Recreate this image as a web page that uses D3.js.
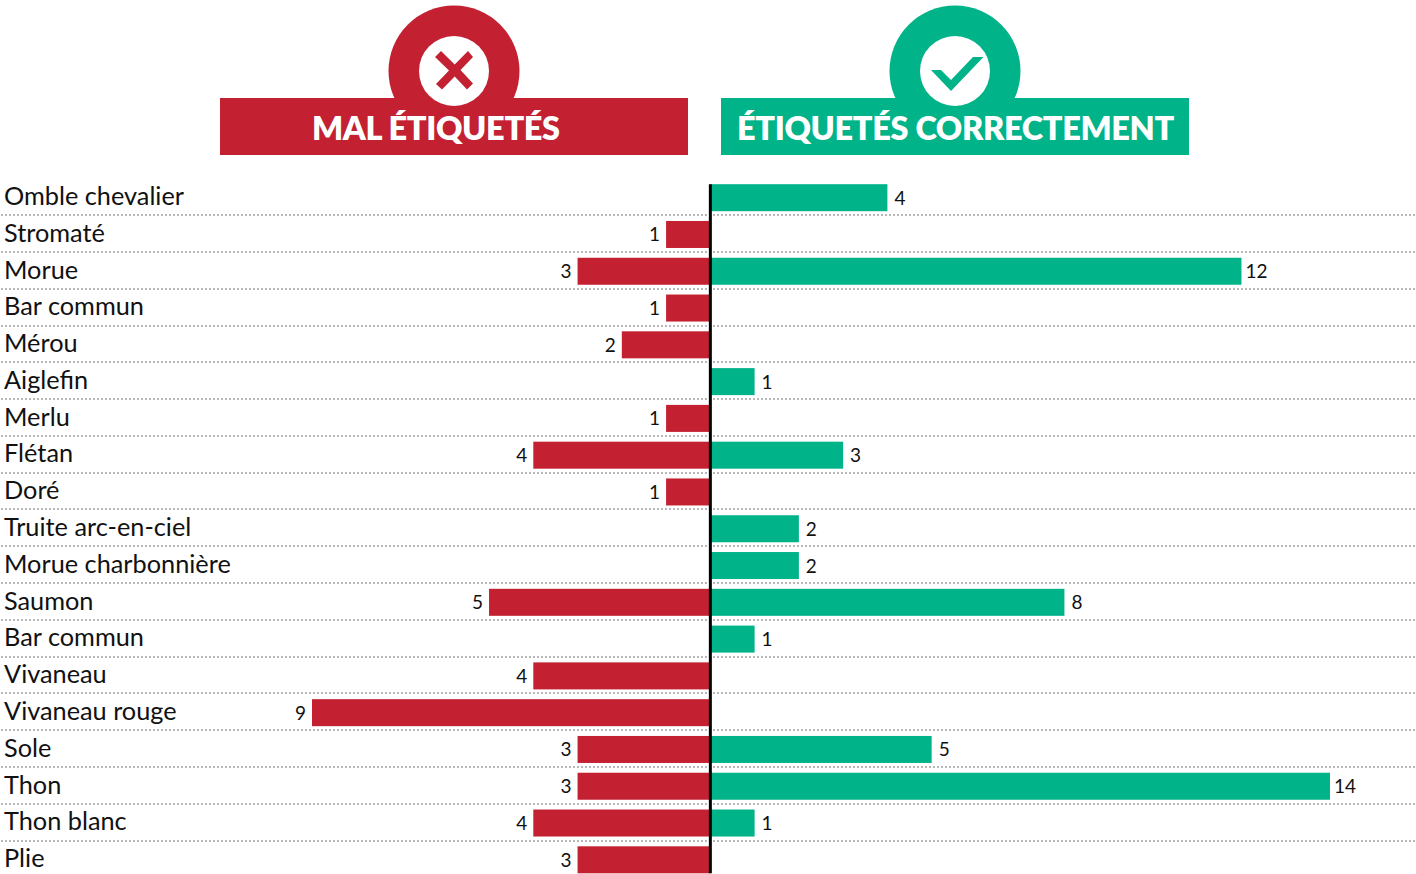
<!DOCTYPE html>
<html>
<head>
<meta charset="utf-8">
<script src="https://cdn.jsdelivr.net/npm/d3@7"></script>
<style>
  html, body { margin: 0; padding: 0; background: #fff; overflow: hidden; }
  text { font-family: Lato, sans-serif; }
</style>
</head>
<body>
<div id="chart"></div>
<script>
const species = ["Omble chevalier", "Stromaté", "Morue", "Bar commun", "Mérou", "Aiglefin", "Merlu", "Flétan", "Doré", "Truite arc-en-ciel", "Morue charbonnière", "Saumon", "Bar commun", "Vivaneau", "Vivaneau rouge", "Sole", "Thon", "Thon blanc", "Plie"];
const wrong = [0, 1, 3, 1, 2, 0, 1, 4, 1, 0, 0, 5, 0, 4, 9, 3, 3, 4, 3];
const right = [4, 0, 12, 0, 0, 1, 0, 3, 0, 2, 2, 8, 1, 0, 0, 5, 14, 1, 0];

const red = "#c32032";
const green = "#00b388";

const width = 1416;
const height = 874;

const svg = d3.select("#chart").append("svg")
  .attr("width", width)
  .attr("height", height);

// one unit is about 44.2px either side of the centre line
const x = d3.scaleLinear().domain([-9, 14]).range([312, 1330]);

const y = d3.scaleBand()
  .domain(d3.range(species.length))
  .range([179.3, 878.2])
  .paddingInner(0.266)
  .paddingOuter(0.133);

// dotted separators
svg.append("g").selectAll("line")
  .data(d3.range(species.length - 1))
  .join("line")
  .attr("x1", 1)
  .attr("x2", width)
  .attr("y1", d => Math.round(y(d) + y.bandwidth() + 4))
  .attr("y2", d => Math.round(y(d) + y.bandwidth() + 4))
  .attr("stroke", "#b8b8b8")
  .attr("stroke-width", 2)
  .attr("stroke-dasharray", "2 2");

// species names
svg.append("g").selectAll("text")
  .data(species)
  .join("text")
  .attr("x", 4)
  .attr("y", (d, i) => y(i) + 20.8)
  .attr("font-size", 25.3)
  .attr("fill", "#111")
  .text(d => d);

// red bars
svg.append("g").selectAll("rect")
  .data(wrong)
  .join("rect")
  .attr("x", d => x(-d))
  .attr("y", (d, i) => y(i))
  .attr("width", d => x(0) - x(-d))
  .attr("height", y.bandwidth())
  .attr("fill", red);

// green bars
svg.append("g").selectAll("rect")
  .data(right)
  .join("rect")
  .attr("x", x(0))
  .attr("y", (d, i) => y(i))
  .attr("width", d => x(d) - x(0))
  .attr("height", y.bandwidth())
  .attr("fill", green);

// value labels
svg.append("g").selectAll("text")
  .data(wrong)
  .join("text")
  .attr("x", d => x(-d) - 6)
  .attr("y", (d, i) => y(i) + 20.5)
  .attr("text-anchor", "end")
  .attr("font-size", 19)
  .attr("fill", "#111")
  .text(d => d > 0 ? d : "");

svg.append("g").selectAll("text")
  .data(right)
  .join("text")
  .attr("x", d => x(d) + (d >= 10 ? 15 : 12.5))
  .attr("y", (d, i) => y(i) + 20.5)
  .attr("text-anchor", "middle")
  .attr("font-size", 19)
  .attr("fill", "#111")
  .text(d => d > 0 ? d : "");

// centre line
svg.append("line")
  .attr("x1", x(0))
  .attr("x2", x(0))
  .attr("y1", y(0))
  .attr("y2", y(species.length - 1) + y.bandwidth())
  .attr("stroke", "#000")
  .attr("stroke-width", 3);

// headers
function header(bx, cx, color, label, tx) {
  const g = svg.append("g");
  g.append("circle").attr("cx", cx).attr("cy", 71).attr("r", 65.5).attr("fill", color);
  g.append("rect").attr("x", bx).attr("y", 98).attr("width", 468).attr("height", 57).attr("fill", color);
  g.append("circle").attr("cx", cx).attr("cy", 71).attr("r", 35).attr("fill", "#fff");
  g.append("text")
    .attr("x", tx)
    .attr("y", 140)
    .attr("font-size", 32.5)
    .attr("font-weight", 800)
    .attr("letter-spacing", -0.35)
    .attr("fill", "#fff")
    .text(label);
  return g;
}

const bad = header(220, 454, red, "MAL ÉTIQUETÉS", 312);
bad.append("path")
  .attr("d", "M441 51 L454.7 64.5 L468 51 L473 57 L460.5 70 L473 83.5 L467 89.5 L454.7 76.5 L442 89.5 L436 84 L449 70.5 L435 57 Z")
  .attr("fill", red);

const good = header(721, 955, green, "ÉTIQUETÉS CORRECTEMENT", 737);
good.append("path")
  .attr("d", "M931 70 L941 70 L951 80 L973 57 L983.5 57 L951 91 Z")
  .attr("fill", green);
</script>
</body>
</html>
